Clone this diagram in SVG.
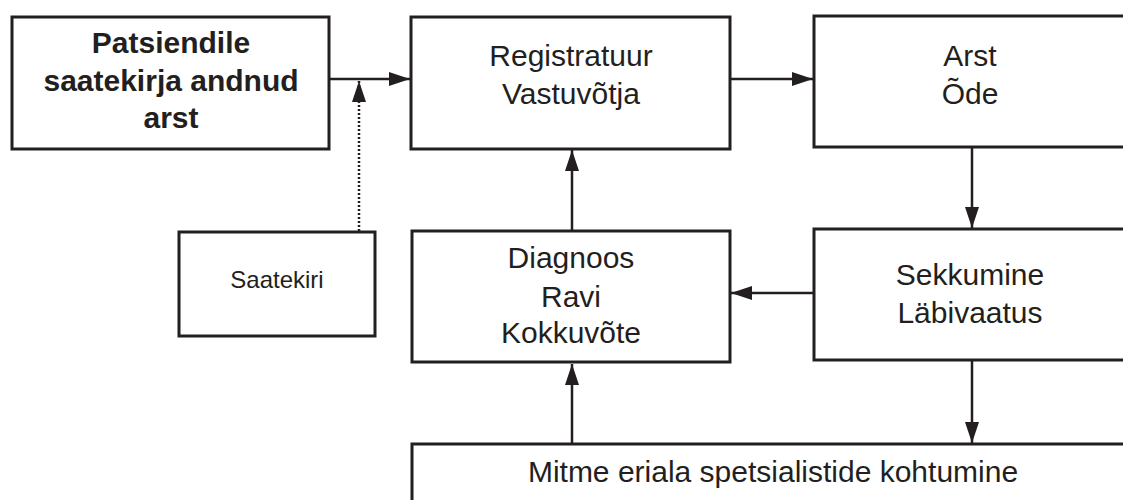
<svg xmlns="http://www.w3.org/2000/svg" width="1123" height="500" viewBox="0 0 1123 500">
  <style>
    .box { fill: #ffffff; stroke: #231f20; stroke-width: 3; }
    .lbl { font-family: "Liberation Sans", Arial, sans-serif; font-size: 30px; fill: #231f20; text-anchor: middle; }
    .bold { font-weight: bold; }
    .small { font-size: 24px; }
    .edge { fill: none; stroke: #231f20; stroke-width: 2.5; }
    .dotted { stroke-dasharray: 2 2; }
  </style>
  <defs>
    <marker id="arrow" markerUnits="userSpaceOnUse" markerWidth="22" markerHeight="16" refX="21" refY="7" orient="auto">
      <path d="M0,0 L21,7 L0,14 z" fill="#231f20"/>
    </marker>
  </defs>
  <rect width="1123" height="500" fill="#ffffff"/>

  <!-- connectors -->
  <g id="connectors">
    <line class="edge" x1="329" y1="79" x2="410" y2="79" marker-end="url(#arrow)"/>
    <line class="edge dotted" x1="359" y1="231" x2="359" y2="81" marker-end="url(#arrow)"/>
    <line class="edge" x1="730" y1="79" x2="813" y2="79" marker-end="url(#arrow)"/>
    <line class="edge" x1="972" y1="147" x2="972" y2="228" marker-end="url(#arrow)"/>
    <line class="edge" x1="813" y1="293" x2="731" y2="293" marker-end="url(#arrow)"/>
    <line class="edge" x1="572" y1="231" x2="572" y2="150" marker-end="url(#arrow)"/>
    <line class="edge" x1="972" y1="360" x2="972" y2="443" marker-end="url(#arrow)"/>
    <line class="edge" x1="572" y1="444" x2="572" y2="364" marker-end="url(#arrow)"/>
  </g>

  <g id="node-saatja">
    <rect class="box" x="12" y="17" width="317" height="132"/>
    <text class="lbl bold" x="171" y="53">Patsiendile</text>
    <text class="lbl bold" x="171" y="91">saatekirja andnud</text>
    <text class="lbl bold" x="171" y="128">arst</text>
  </g>

  <g id="node-registratuur">
    <rect class="box" x="411" y="17" width="319" height="132"/>
    <text class="lbl" x="571" y="66">Registratuur</text>
    <text class="lbl" x="571" y="104">Vastuvõtja</text>
  </g>

  <g id="node-arst">
    <rect class="box" x="814" y="16" width="320" height="131"/>
    <text class="lbl" x="970" y="66">Arst</text>
    <text class="lbl" x="970" y="104">Õde</text>
  </g>

  <g id="node-saatekiri">
    <rect class="box" x="179" y="232" width="196" height="104"/>
    <text class="lbl small" x="277" y="288">Saatekiri</text>
  </g>

  <g id="node-diagnoos">
    <rect class="box" x="412" y="231" width="318" height="131"/>
    <text class="lbl" x="571" y="268">Diagnoos</text>
    <text class="lbl" x="571" y="307">Ravi</text>
    <text class="lbl" x="571" y="343">Kokkuvõte</text>
  </g>

  <g id="node-sekkumine">
    <rect class="box" x="814" y="229" width="320" height="131"/>
    <text class="lbl" x="970" y="285">Sekkumine</text>
    <text class="lbl" x="970" y="323">Läbivaatus</text>
  </g>

  <g id="node-kohtumine">
    <rect class="box" x="412" y="444" width="722" height="80"/>
    <text class="lbl" x="773" y="482">Mitme eriala spetsialistide kohtumine</text>
  </g>
</svg>
